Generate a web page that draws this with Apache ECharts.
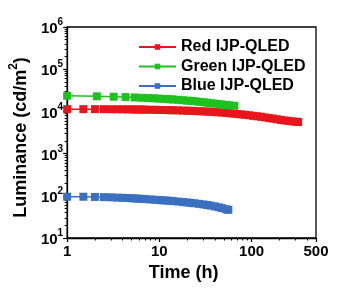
<!DOCTYPE html>
<html>
<head>
<meta charset="utf-8">
<script src="https://cdn.jsdelivr.net/npm/echarts@6/dist/echarts.min.js"></script>
<style>
html,body{margin:0;padding:0;background:#fff;}
#c{width:350px;height:297px;}
</style>
</head>
<body>
<div id="c"></div>
<script>
// ---- data ----
var seriesNames = ['Red IJP-QLED', 'Green IJP-QLED', 'Blue IJP-QLED'];
var redTime = [1, 1.5, 2, 2.5, 3, 3.5, 4, 4.5, 5, 5.5, 6, 6.5, 7, 8, 9, 10, 11, 12, 13, 14, 16, 18, 20, 22, 24, 27, 30, 33, 36, 40, 44, 48, 53, 58, 64, 70, 77, 85, 94, 104, 115, 127, 140, 155, 170, 188, 207, 228, 250, 275, 300, 320];
var redLum = [11300, 11300, 11300, 11300, 11250, 11250, 11200, 11200, 11150, 11100, 11100, 11050, 11000, 10950, 10900, 10850, 10800, 10750, 10700, 10650, 10550, 10450, 10400, 10300, 10200, 10100, 10000, 9900, 9800, 9650, 9500, 9400, 9200, 9050, 8850, 8700, 8500, 8300, 8100, 7850, 7650, 7450, 7200, 6950, 6750, 6500, 6300, 6100, 5950, 5800, 5700, 5600];
var greenTime = [1, 2.1, 3.2, 4.3, 5.4, 6.5, 7.6, 8.7, 9.8, 11, 12, 13, 14, 16, 18, 20, 22, 24, 27, 30, 33, 36, 40, 44, 48, 53, 58, 65];
var greenLum = [23500, 22800, 22300, 21800, 21400, 21000, 20700, 20400, 20100, 19800, 19600, 19400, 19200, 18800, 18400, 18000, 17700, 17400, 16900, 16500, 16100, 15700, 15300, 14900, 14600, 14200, 13900, 13600];
var blueTime = [1, 1.5, 2, 2.5, 3, 3.5, 4, 4.5, 5, 5.5, 6, 6.5, 7, 8, 9, 10, 11, 12, 13, 14, 16, 18, 20, 22, 24, 27, 30, 33, 36, 40, 44, 48, 53, 56];
var blueLum = [95, 95, 94, 93, 92, 90.5, 89.5, 88.5, 87.5, 86.5, 85.5, 84.5, 83.5, 82, 80.5, 79, 78, 77, 76, 75, 73, 71, 69.5, 68, 66.5, 64.5, 62.5, 60.5, 58.5, 56, 53.5, 51, 48, 46.5];
var xMajorTicks = [1, 10, 100, 500];
var xMinorTicks = [2, 3, 4, 5, 6, 7, 8, 9, 20, 30, 40, 50, 60, 70, 80, 90, 200, 300, 400];
var yMajorTicks = [10, 100, 1000, 10000, 100000, 1000000];
var yMinorTicks = [20, 30, 40, 50, 60, 70, 80, 90, 200, 300, 400, 500, 600, 700, 800, 900, 2000, 3000, 4000, 5000, 6000, 7000, 8000, 9000, 20000, 30000, 40000, 50000, 60000, 70000, 80000, 90000, 200000, 300000, 400000, 500000, 600000, 700000, 800000, 900000];
var colors = ['#e8161c', '#1ec21e', '#3b6fbf'];

function pairs(t, v) { return t.map(function (x, i) { return [x, v[i]]; }); }

var FONT = 'Liberation Sans, Arial, sans-serif';
var chart = echarts.init(document.getElementById('c'), null, {renderer: 'canvas'});

function mkSeries(name, t, v, c) {
  return {
    name: name, type: 'line', data: pairs(t, v),
    xAxisIndex: 0, yAxisIndex: 0,
    symbol: 'rect', symbolSize: 8, showAllSymbol: true,
    lineStyle: {color: c, width: 1.5}, itemStyle: {color: c},
    animation: false
  };
}

chart.setOption({
  animation: false,
  color: colors,
  grid: {left: 63, right: 34, top: 27, bottom: 59, show: true, borderColor: '#000', borderWidth: 1.3, backgroundColor: 'transparent'},
  legend: {
    orient: 'vertical', left: 133, top: 34, itemWidth: 37, itemHeight: 7, itemGap: 3.5,
    textStyle: {fontFamily: FONT, fontWeight: 'bold', fontSize: 16, lineHeight: 16, color: '#000'},
    data: seriesNames
  },
  xAxis: [{
    type: 'log', logBase: 10, min: 1, max: 500,
    axisLine: {show: true, lineStyle: {color: '#000', width: 1.3}},
    axisTick: {show: true, inside: false, length: 4, lineStyle: {color: '#000', width: 1.2}, customValues: xMajorTicks},
    axisLabel: {show: true, margin: 6, fontFamily: FONT, fontWeight: 'bold', fontSize: 15, color: '#000', customValues: xMajorTicks,
      showMinLabel: true, showMaxLabel: true},
    splitLine: {show: false},
    name: 'Time (h)', nameLocation: 'middle', nameGap: 24,
    nameTextStyle: {fontFamily: FONT, fontWeight: 'bold', fontSize: 18, color: '#000', padding: [0, 16, 0, 0]}
  }, {
    type: 'log', logBase: 10, min: 1, max: 500, position: 'bottom',
    axisLine: {show: false},
    axisTick: {show: true, inside: false, length: 2.5, lineStyle: {color: '#000', width: 1}, customValues: xMinorTicks},
    axisLabel: {show: false},
    splitLine: {show: false}
  }],
  yAxis: [{
    type: 'log', logBase: 10, min: 10, max: 1000000,
    axisLine: {show: true, lineStyle: {color: '#000', width: 1.3}},
    axisTick: {show: true, inside: false, length: 4, lineStyle: {color: '#000', width: 1.2}, customValues: yMajorTicks},
    axisLabel: {
      show: true, margin: 4, color: '#000', customValues: yMajorTicks,
      formatter: function (v) { return '{b|10}{s|' + Math.round(Math.log10(v)) + '}'; },
      rich: {
        b: {fontFamily: FONT, fontWeight: 'bold', fontSize: 15, color: '#000', lineHeight: 19, verticalAlign: 'bottom'},
        s: {fontFamily: FONT, fontWeight: 'bold', fontSize: 10, color: '#000', lineHeight: 10, verticalAlign: 'top'}
      }
    },
    splitLine: {show: false},
    name: '{a|Luminance (cd/m}{s|2}{a|)}', nameLocation: 'middle', nameGap: 28, nameRotate: 90,
    nameTextStyle: {
      padding: [0, 10, 0, 0],
      rich: {
        a: {fontFamily: FONT, fontWeight: 'bold', fontSize: 18, color: '#000', lineHeight: 22, verticalAlign: 'bottom'},
        s: {fontFamily: FONT, fontWeight: 'bold', fontSize: 12, color: '#000', lineHeight: 12, verticalAlign: 'top'}
      }
    }
  }, {
    type: 'log', logBase: 10, min: 10, max: 1000000, position: 'left',
    axisLine: {show: false},
    axisTick: {show: true, inside: false, length: 2.5, lineStyle: {color: '#000', width: 1}, customValues: yMinorTicks},
    axisLabel: {show: false},
    splitLine: {show: false}
  }],
  series: [
    mkSeries(seriesNames[0], redTime, redLum, colors[0]),
    mkSeries(seriesNames[1], greenTime, greenLum, colors[1]),
    mkSeries(seriesNames[2], blueTime, blueLum, colors[2])
  ]
});
</script>
</body>
</html>
